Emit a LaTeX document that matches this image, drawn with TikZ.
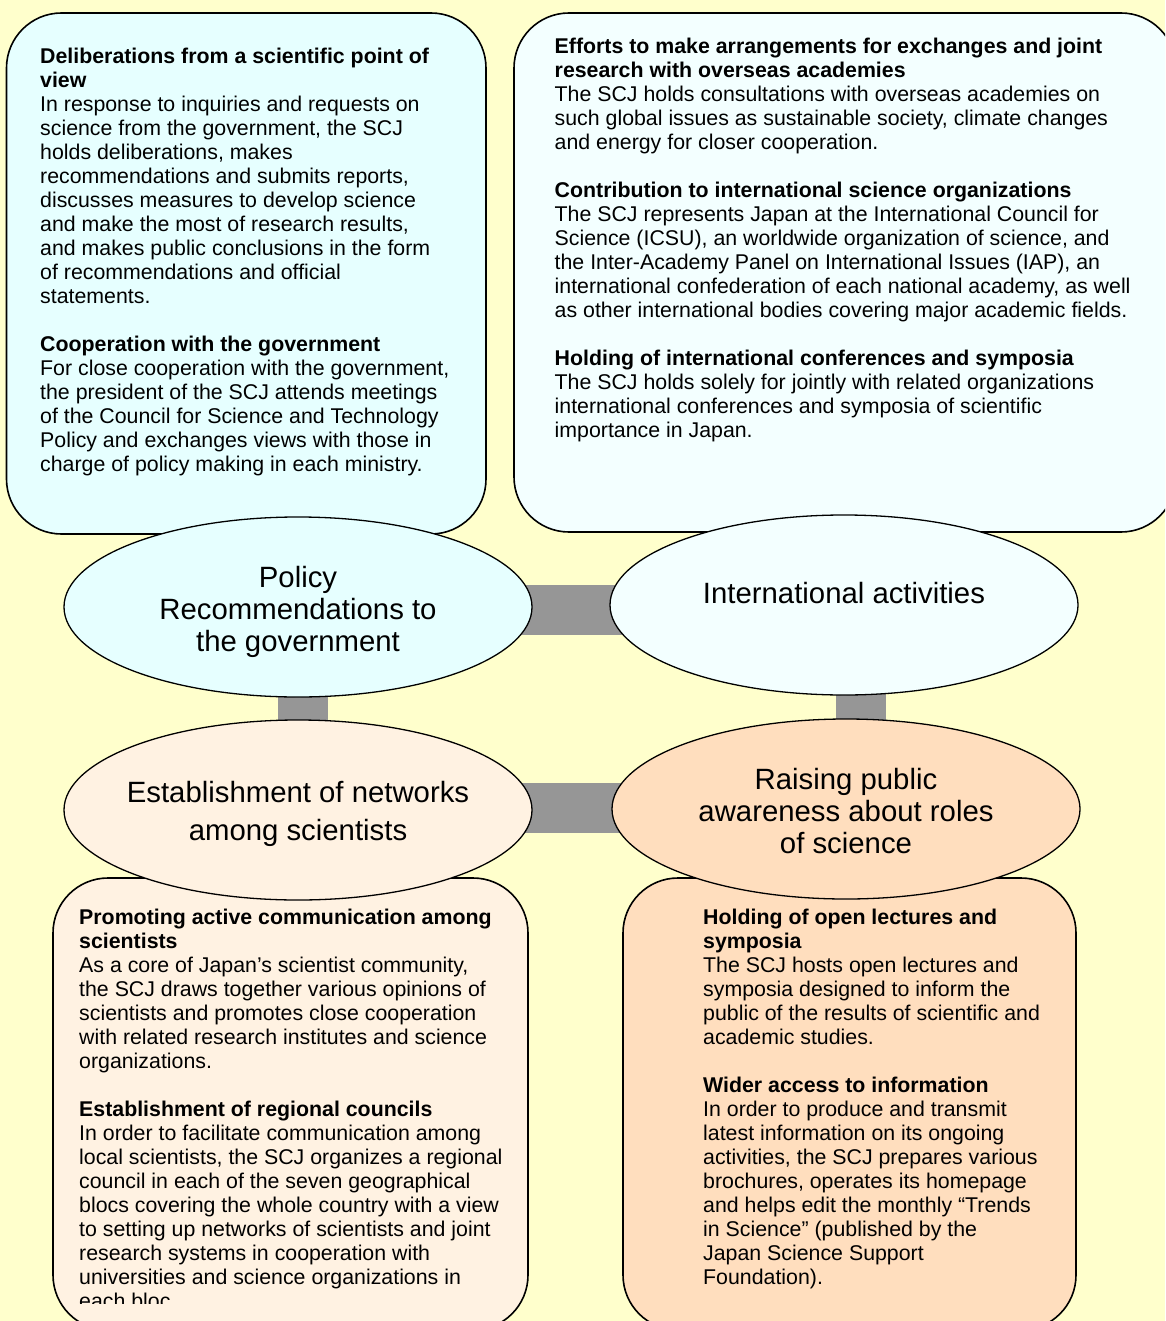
\documentclass[tikz,border=0pt]{standalone}
\usepackage{fontspec}
\setmainfont{Liberation Sans}
\usetikzlibrary{shapes.geometric}
\pgfdeclarelayer{bglayer}
\pgfsetlayers{bglayer,main}
\definecolor{bgyellow}{HTML}{FFFFCC}
\definecolor{cyanA}{HTML}{E6FFFF}
\definecolor{cyanB}{HTML}{F3FFFF}
\definecolor{linenC}{HTML}{FFF2E2}
\definecolor{peachD}{HTML}{FFDEBE}
\definecolor{bargray}{HTML}{969696}
\newcommand{\bodyfnt}{\fontsize{21.33pt}{24pt}\selectfont}
\newcommand{\ellfnt}{\fontsize{29.33pt}{32pt}\selectfont}
\newcommand{\ellfntwide}{\fontsize{29.33pt}{38pt}\selectfont}
\begin{document}
\begin{tikzpicture}[x=1pt,y=-1pt,
  box/.style={rectangle, draw=black, line width=1.6pt, rounded corners=55pt, inner sep=0pt},
  ell/.style={ellipse, draw=black, line width=1.3pt, minimum width=468pt, minimum height=180pt, inner sep=0pt},
  txt/.style={anchor=north west, align=left, inner sep=0pt, font=\bodyfnt},
  etxt/.style={align=center, inner sep=0pt, font=\ellfnt},
  bar/.style={draw=bargray, line width=50pt}
]
\useasboundingbox (0,0) rectangle (1165,1321);
\clip (0,0) rectangle (1165,1321);
\begin{pgfonlayer}{bglayer}
  \fill[bgyellow] (0,0) rectangle (1165,1321);
\end{pgfonlayer}

% boxes
\node[box, fill=cyanA, minimum width=479.5pt, minimum height=521pt] (tlbox) at (246.25,273.5) {};
\node[box, fill=cyanB, minimum width=662pt, minimum height=519pt] (trbox) at (845,272.5) {};
\node[box, fill=linenC, minimum width=475pt, minimum height=452pt] (blbox) at (290.5,1104) {};
\node[box, fill=peachD, minimum width=453pt, minimum height=452pt] (brbox) at (849.5,1104) {};

% ellipses
\node[ell, fill=cyanA] (policy) at (298,607) {};
\node[ell, fill=cyanB] (intl) at (844,605) {};
\node[ell, fill=linenC] (estab) at (298,810) {};
\node[ell, fill=peachD] (raise) at (846,809) {};

% connectors
\coordinate (hTop) at (0,610);
\coordinate (hBot) at (0,808);
\coordinate (vLeft) at (303,0);
\coordinate (vRight) at (861,0);
\begin{pgfonlayer}{bglayer}
  \draw[bar] (policy.center |- hTop) -- (intl.center |- hTop);
  \draw[bar] (estab.center |- hBot) -- (raise.center |- hBot);
  \draw[bar] (policy.center -| vLeft) -- (estab.center -| vLeft);
  \draw[bar] (intl.center -| vRight) -- (raise.center -| vRight);
\end{pgfonlayer}

% ellipse labels
\node[etxt] (policyT) at (298,612) {Policy\\Recommendations to\\the government};
\node[etxt] (intlT) at (844,593) {International activities};
\node[etxt, font=\ellfntwide] (estabT) at (298,814) {Establishment of networks\\among scientists};
\node[etxt] (raiseT) at (846,811) {Raising public\\awareness about roles\\of science};

% box texts
\node[txt] (tltext) at (40,47.5) {\textbf{Deliberations from a scientific point of}\\
\textbf{view}\\
In response to inquiries and requests on\\
science from the government, the SCJ\\
holds deliberations, makes\\
recommendations and submits reports,\\
discusses measures to develop science\\
and make the most of research results,\\
and makes public conclusions in the form\\
of recommendations and official\\
statements.\\[24pt]
\textbf{Cooperation with the government}\\
For close cooperation with the government,\\
the president of the SCJ attends meetings\\
of the Council for Science and Technology\\
Policy and exchanges views with those in\\
charge of policy making in each ministry.};

\node[txt] (trtext) at (554.5,38) {\textbf{Efforts to make arrangements for exchanges and joint}\\
\textbf{research with overseas academies}\\
The SCJ holds consultations with overseas academies on\\
such global issues as sustainable society, climate changes\\
and energy for closer cooperation.\\[24pt]
\textbf{Contribution to international science organizations}\\
The SCJ represents Japan at the International Council for\\
Science (ICSU), an worldwide organization of science, and\\
the Inter-Academy Panel on International Issues (IAP), an\\
international confederation of each national academy, as well\\
as other international bodies covering major academic fields.\\[24pt]
\textbf{Holding of international conferences and symposia}\\
The SCJ holds solely for jointly with related organizations\\
international conferences and symposia of scientific\\
importance in Japan.};

\begin{scope}
\clip (0,0) rectangle (1165,1303);
\node[txt] (bltext) at (79,909) {\textbf{Promoting active communication among}\\
\textbf{scientists}\\
As a core of Japan’s scientist community,\\
the SCJ draws together various opinions of\\
scientists and promotes close cooperation\\
with related research institutes and science\\
organizations.\\[24pt]
\textbf{Establishment of regional councils}\\
In order to facilitate communication among\\
local scientists, the SCJ organizes a regional\\
council in each of the seven geographical\\
blocs covering the whole country with a view\\
to setting up networks of scientists and joint\\
research systems in cooperation with\\
universities and science organizations in\\
each bloc.};
\end{scope}

\node[txt] (brtext) at (703,909) {\textbf{Holding of open lectures and}\\
\textbf{symposia}\\
The SCJ hosts open lectures and\\
symposia designed to inform the\\
public of the results of scientific and\\
academic studies.\\[24pt]
\textbf{Wider access to information}\\
In order to produce and transmit\\
latest information on its ongoing\\
activities, the SCJ prepares various\\
brochures, operates its homepage\\
and helps edit the monthly “Trends\\
in Science” (published by the\\
Japan Science Support\\
Foundation).};
\end{tikzpicture}
\end{document}
